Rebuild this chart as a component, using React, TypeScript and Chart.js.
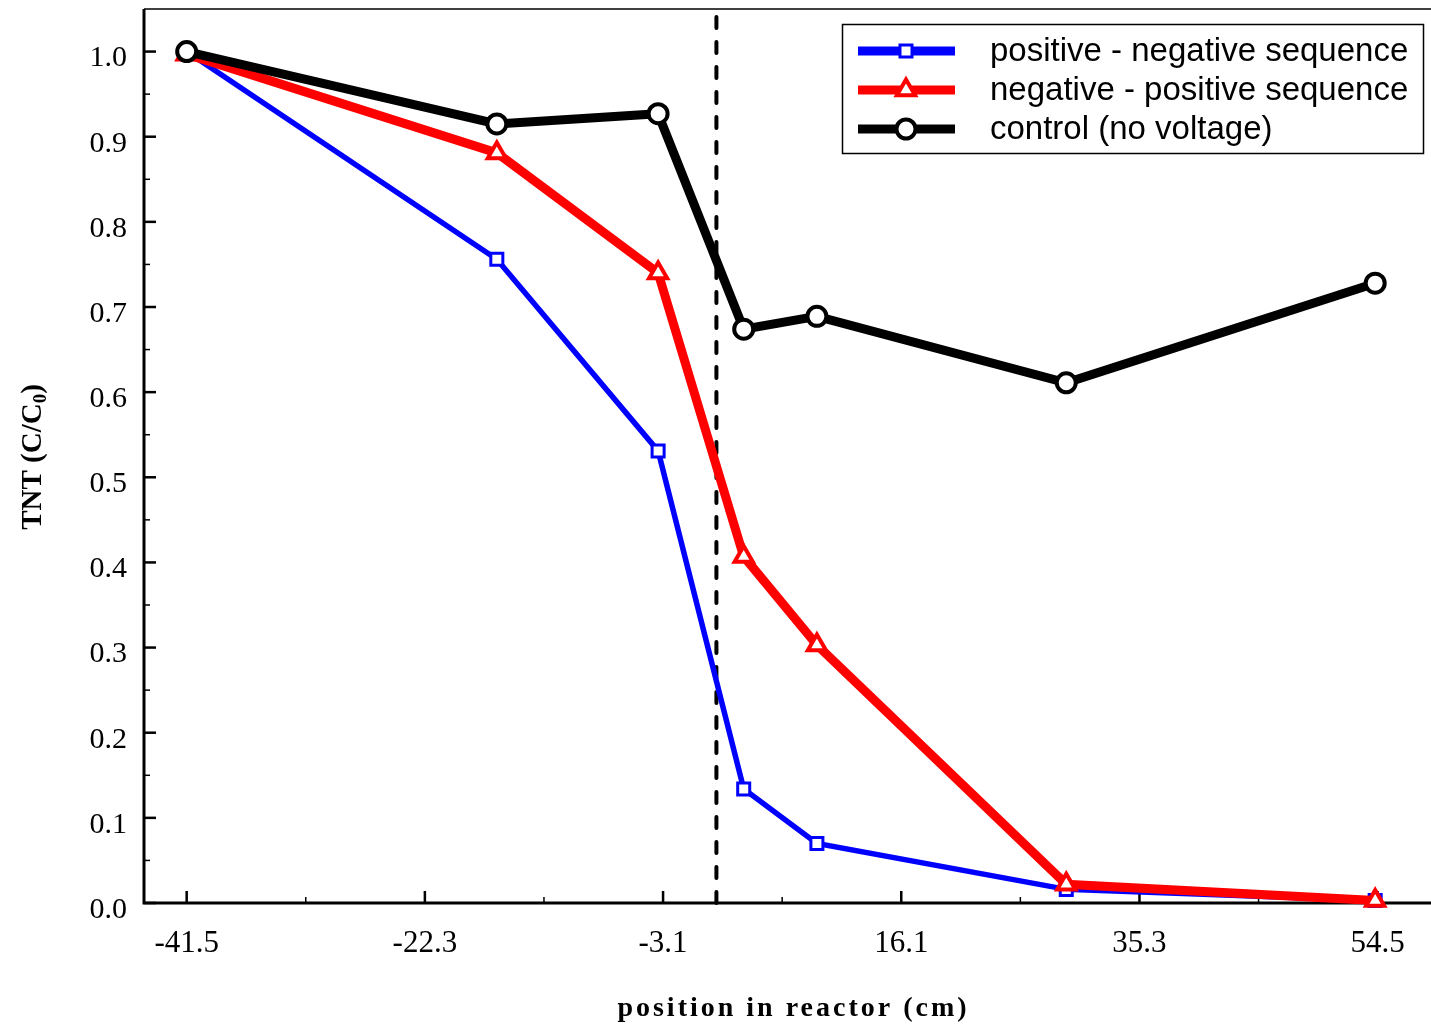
import React, { useEffect, useRef } from 'react';
import { Chart, registerables } from 'chart.js';

Chart.register(...registerables);

// ---- data ----
const positions = [-41.5, -16.5, -3.5, 3.4, 9.3, 29.4, 54.3];
const posNegSeq = [1.0, 0.756, 0.531, 0.134, 0.07, 0.016, 0.003];
const negPosSeq = [0.997, 0.881, 0.74, 0.407, 0.303, 0.022, 0.003];
const controlSeq = [1.0, 0.915, 0.927, 0.674, 0.689, 0.611, 0.728];
const seriesLabels = [
  'positive - negative sequence',
  'negative - positive sequence',
  'control (no voltage)',
];
const xTicks = [-41.5, -22.3, -3.1, 16.1, 35.3, 54.5];
const xMinorTicks = [-31.9, -12.7, 6.5, 25.7, 44.9];
const yTicks = [0, 0.1, 0.2, 0.3, 0.4, 0.5, 0.6, 0.7, 0.8, 0.9, 1.0];
const yMinorTicks = [0.05, 0.15, 0.25, 0.35, 0.45, 0.55, 0.65, 0.75, 0.85, 0.95];
const boundaryX = 1.2;
const xTitle = 'position in reactor (cm)';

const SERIF = '"Liberation Serif", "Times New Roman", serif';
const SANS = '"Liberation Sans", Arial, sans-serif';

function drawMarker(ctx: CanvasRenderingContext2D, style: string, x: number, y: number, r: number) {
  ctx.beginPath();
  if (style === 'rect') {
    const s = Math.SQRT1_2 * r;
    ctx.rect(x - s, y - s, 2 * s, 2 * s);
  } else if (style === 'triangle') {
    let a = 0;
    ctx.moveTo(x + Math.sin(a) * r, y - Math.cos(a) * r);
    a += (2 * Math.PI) / 3;
    ctx.lineTo(x + Math.sin(a) * r, y - Math.cos(a) * r);
    a += (2 * Math.PI) / 3;
    ctx.lineTo(x + Math.sin(a) * r, y - Math.cos(a) * r);
    ctx.closePath();
  } else {
    ctx.arc(x, y, r, 0, Math.PI * 2);
  }
  ctx.fill();
  ctx.stroke();
}

const zeroPad = (s: any) => {
  s.paddingLeft = 0;
  s.paddingRight = 0;
  s.paddingTop = 0;
  s.paddingBottom = 0;
};

const axesPlugin = {
  id: 'customAxes',
  beforeDatasetsDraw(chart: any) {
    const { ctx, chartArea, scales } = chart;
    const xs = scales.x;
    const ys = scales.y;
    ctx.save();
    ctx.strokeStyle = '#000';
    // top line
    ctx.lineWidth = 1.5;
    ctx.beginPath();
    ctx.moveTo(chartArea.left, chartArea.top);
    ctx.lineTo(chartArea.right, chartArea.top);
    ctx.stroke();
    // y ticks
    ctx.lineWidth = 2.5;
    yTicks.forEach((v) => {
      const p = ys.getPixelForValue(v);
      ctx.beginPath();
      ctx.moveTo(chartArea.left, p);
      ctx.lineTo(chartArea.left + 12, p);
      ctx.stroke();
    });
    ctx.lineWidth = 1.5;
    yMinorTicks.forEach((v) => {
      const p = ys.getPixelForValue(v);
      ctx.beginPath();
      ctx.moveTo(chartArea.left, p);
      ctx.lineTo(chartArea.left + 6, p);
      ctx.stroke();
    });
    // x ticks
    ctx.lineWidth = 2.5;
    xTicks.forEach((v) => {
      const p = xs.getPixelForValue(v);
      ctx.beginPath();
      ctx.moveTo(p, chartArea.bottom);
      ctx.lineTo(p, chartArea.bottom - 12);
      ctx.stroke();
    });
    ctx.lineWidth = 1.5;
    xMinorTicks.forEach((v) => {
      const p = xs.getPixelForValue(v);
      ctx.beginPath();
      ctx.moveTo(p, chartArea.bottom);
      ctx.lineTo(p, chartArea.bottom - 6);
      ctx.stroke();
    });
    // axis lines
    ctx.lineWidth = 3;
    ctx.beginPath();
    ctx.moveTo(chartArea.left, chartArea.top);
    ctx.lineTo(chartArea.left, chartArea.bottom);
    ctx.lineTo(chartArea.right, chartArea.bottom);
    ctx.stroke();
    ctx.restore();
  },
  afterDraw(chart: any) {
    const { ctx, chartArea } = chart;
    ctx.save();
    ctx.fillStyle = '#000';
    // x title
    ctx.font = `bold 28px ${SERIF}`;
    (ctx as any).letterSpacing = '3px';
    ctx.textAlign = 'center';
    ctx.textBaseline = 'alphabetic';
    ctx.fillText(xTitle, (chartArea.left + chartArea.right) / 2 + 6, 1016);
    (ctx as any).letterSpacing = '0px';
    // y title with subscript
    ctx.translate(30, (chartArea.top + chartArea.bottom) / 2 + 1);
    ctx.rotate(-Math.PI / 2);
    const big = `bold 29px ${SERIF}`;
    const small = `bold 19px ${SERIF}`;
    const t1 = 'TNT (C/C';
    const t2 = '0';
    const t3 = ')';
    ctx.font = big;
    const w1 = ctx.measureText(t1).width;
    const w3 = ctx.measureText(t3).width;
    ctx.font = small;
    const w2 = ctx.measureText(t2).width;
    let x0 = -(w1 + w2 + w3) / 2;
    ctx.textAlign = 'left';
    ctx.font = big;
    ctx.fillText(t1, x0, 10.5);
    x0 += w1;
    ctx.font = small;
    ctx.fillText(t2, x0, 16);
    x0 += w2;
    ctx.font = big;
    ctx.fillText(t3, x0, 10.5);
    ctx.restore();

    // legend
    ctx.save();
    ctx.strokeStyle = '#000';
    ctx.lineWidth = 1.5;
    ctx.strokeRect(842.5, 24.5, 581, 129);
    const items = chart.data.datasets.filter((d: any) => d.inLegend);
    items.forEach((d: any, i: number) => {
      const y = 51 + i * 39;
      ctx.strokeStyle = d.borderColor;
      ctx.lineWidth = 9;
      ctx.lineCap = 'butt';
      ctx.beginPath();
      ctx.moveTo(858, y);
      ctx.lineTo(955, y);
      ctx.stroke();
      ctx.fillStyle = '#fff';
      ctx.lineWidth = d.pointBorderWidth;
      drawMarker(ctx, d.pointStyle, 906, y, d.pointRadius);
      ctx.fillStyle = '#000';
      ctx.font = `33px ${SANS}`;
      ctx.textAlign = 'left';
      ctx.textBaseline = 'middle';
      ctx.fillText(d.label, 990, y + 1);
    });
    ctx.restore();
  },
};

export default function App() {
  const ref = useRef<HTMLCanvasElement>(null);
  useEffect(() => {
    if (!ref.current) return;
    const toPts = (ys: number[]) => positions.map((x, i) => ({ x, y: ys[i] }));
    const chart = new Chart(ref.current, {
      type: 'line',
      data: {
        datasets: [
          {
            label: seriesLabels[0],
            data: toPts(posNegSeq),
            borderColor: '#0000ff',
            borderWidth: 5.5,
            pointStyle: 'rect',
            pointRadius: 8.5,
            pointHoverRadius: 8.5,
            pointBorderWidth: 3,
            pointBackgroundColor: '#ffffff',
            pointBorderColor: '#0000ff',
            order: 3,
            clip: false,
            inLegend: true,
          } as any,
          {
            label: seriesLabels[1],
            data: toPts(negPosSeq),
            borderColor: '#ff0000',
            borderWidth: 9,
            pointStyle: 'triangle',
            pointRadius: 10.5,
            pointHoverRadius: 10.5,
            pointBorderWidth: 4,
            pointBackgroundColor: '#ffffff',
            pointBorderColor: '#ff0000',
            order: 2,
            clip: false,
            inLegend: true,
          } as any,
          {
            label: seriesLabels[2],
            data: toPts(controlSeq),
            borderColor: '#000000',
            borderWidth: 9,
            pointStyle: 'circle',
            pointRadius: 9.5,
            pointHoverRadius: 9.5,
            pointBorderWidth: 4,
            pointBackgroundColor: '#ffffff',
            pointBorderColor: '#000000',
            order: 1,
            clip: false,
            inLegend: true,
          } as any,
          {
            label: 'boundary',
            data: [
              { x: boundaryX, y: 0 },
              { x: boundaryX, y: 1.05 },
            ],
            borderColor: '#000000',
            borderWidth: 4,
            borderDash: [11, 14],
            borderCapStyle: 'round',
            pointRadius: 0,
            order: 4,
            clip: false,
            inLegend: false,
          } as any,
        ],
      },
      options: {
        responsive: false,
        animation: false,
        events: [],
        layout: { autoPadding: false, padding: { left: 0, right: 0, top: 9, bottom: 0 } },
        plugins: { legend: { display: false }, tooltip: { enabled: false } },
        scales: {
          x: {
            type: 'linear',
            min: -44.94,
            max: 58.8,
            grid: { display: false, drawTicks: false },
            border: { display: false },
            afterBuildTicks: (s: any) => {
              s.ticks = xTicks.map((v) => ({ value: v }));
            },
            afterFit: (s: any) => {
              s.height = 122;
              zeroPad(s);
            },
            ticks: {
              autoSkip: false,
              maxRotation: 0,
              padding: 22,
              color: '#000',
              font: { family: SERIF, size: 31 },
              callback: (v: any) => String(v),
            },
          },
          y: {
            type: 'linear',
            min: 0,
            max: 1.05,
            grid: { display: false, drawTicks: false },
            border: { display: false },
            afterBuildTicks: (s: any) => {
              s.ticks = yTicks.map((v) => ({ value: v }));
            },
            afterFit: (s: any) => {
              s.width = 144;
              zeroPad(s);
            },
            ticks: {
              autoSkip: false,
              padding: 17,
              labelOffset: 7,
              color: '#000',
              font: { family: SERIF, size: 30 },
              callback: (v: any) => Number(v).toFixed(1),
            },
          },
        },
      },
      plugins: [axesPlugin],
    });
    return () => chart.destroy();
  }, []);
  return (
    <canvas
      ref={ref}
      width={1431}
      height={1025}
      style={{ position: 'absolute', left: 0, top: 0, display: 'block', background: '#fff' }}
    />
  );
}
